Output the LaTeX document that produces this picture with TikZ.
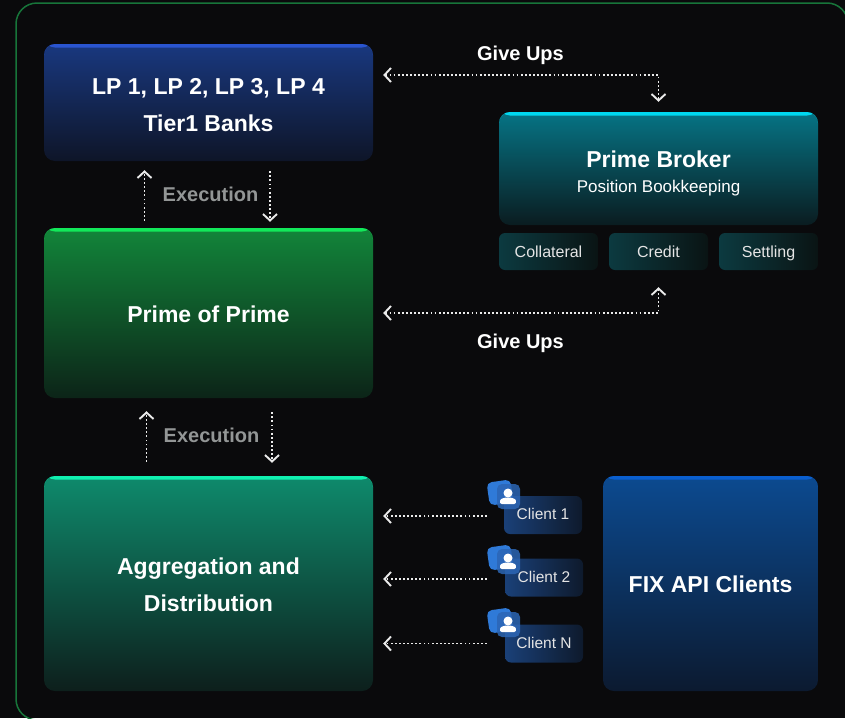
\documentclass[tikz,border=0pt]{standalone}
\usepackage{fontspec}
\setmainfont{Liberation Sans}
\usetikzlibrary{arrows.meta}
\definecolor{bgc}{HTML}{0A0A0C}
\definecolor{framec}{HTML}{17753A}
\definecolor{execc}{HTML}{939696}
\definecolor{lpS}{HTML}{2A55D0}\definecolor{lpA}{HTML}{19387F}\definecolor{lpB}{HTML}{12275F}\definecolor{lpC}{HTML}{0E1528}
\definecolor{ppS}{HTML}{12E85A}\definecolor{ppA}{HTML}{12853A}\definecolor{ppB}{HTML}{0E5A2E}\definecolor{ppC}{HTML}{0C2418}
\definecolor{agS}{HTML}{10F0B0}\definecolor{agA}{HTML}{0E8A6C}\definecolor{agB}{HTML}{0C5A4A}\definecolor{agC}{HTML}{0D1F1C}
\definecolor{pbS}{HTML}{00D8F0}\definecolor{pbA}{HTML}{067485}\definecolor{pbB}{HTML}{07525E}\definecolor{pbC}{HTML}{0A1C20}
\definecolor{fxS}{HTML}{0A5FD0}\definecolor{fxA}{HTML}{0C4A90}\definecolor{fxB}{HTML}{0C3262}\definecolor{fxC}{HTML}{0C1A30}
\definecolor{tagL}{HTML}{0C3A40}\definecolor{tagR}{HTML}{0A1414}
\definecolor{cliL}{HTML}{1A4078}\definecolor{cliR}{HTML}{0E1A2C}
\definecolor{icoA}{HTML}{2F7AD8}\definecolor{icoB}{HTML}{2C66B5}
\newcommand{\lowr}[2]{\raisebox{-#1pt}[\height][\depth]{#2}}
\tikzset{
 card/.style n args={4}{draw=none,rounded corners=11pt,inner sep=0pt,align=center,text=white,
   font=\fontsize{23}{37}\selectfont\bfseries,
   top color=#2,middle color=#3,bottom color=#4,
   path picture={\fill[#1] (path picture bounding box.north west) rectangle ([yshift=-3.5pt]path picture bounding box.north east);}},
 tagbox/.style={rounded corners=6pt,inner sep=0pt,text=white!90!black,font=\fontsize{16}{18}\selectfont,left color=tagL,right color=tagR,minimum width=99pt,minimum height=37pt,text height=14pt,text depth=3pt},
 clientbox/.style={rounded corners=6pt,inner sep=0pt,text=white!90!black,font=\fontsize{15.5}{18}\selectfont,left color=cliL,right color=cliR,minimum width=78pt,minimum height=38pt,text height=12pt,text depth=3pt},
 flow/.style={draw=white!92!black,line width=1.9pt,dash pattern=on 1.8pt off 2.3pt},
 tipend/.style={-{Straight Barb[length=6.5pt,width=14pt,line width=1.9pt]}},
 tipboth/.style={{Straight Barb[length=6.5pt,width=14pt,line width=1.9pt]}-{Straight Barb[length=6.5pt,width=14pt,line width=1.9pt]}},
 lbl/.style={text=white,font=\fontsize{20}{24}\selectfont\bfseries,inner sep=0pt},
 execl/.style={text=execc,font=\fontsize{20}{24}\selectfont\bfseries,inner sep=0pt},
}
\newcommand{\clienticon}[2]{%
 \begin{scope}[shift={(#1,#2)}]
  \fill[icoA,rounded corners=5pt,rotate around={8:(-8,-3)}] (-20,-14) rectangle (4,9);
  \fill[icoB,rounded corners=5pt,opacity=.85] (-11,-11) rectangle (12,14);
  \fill[white] (0,-2) circle (4.5);
  \fill[white,rounded corners=1.5pt] (-7.8,9) -- (-7.8,7) .. controls (-7.8,3.5) and (-3,2.6) .. (0,2.6) .. controls (3,2.6) and (7.8,3.5) .. (7.8,7) -- (7.8,9) -- cycle;
 \end{scope}}
\begin{document}
\begin{tikzpicture}[x=1pt,y=-1pt]
\useasboundingbox (0,0) rectangle (845,718);
\fill[bgc] (0,0) rectangle (845,718);
\draw[framec,line width=1.5pt,rounded corners=21pt] (44,720) -- (16,720) -- (16,3) -- (848,3) -- (848,50);

\node[card={lpS}{lpA}{lpB}{lpC},minimum width=329pt,minimum height=117pt] (lp) at (208.5,102.5) {\lowr{3}{LP 1, LP 2, LP 3, LP 4}\\\lowr{3}{Tier1 Banks}};
\node[card={ppS}{ppA}{ppB}{ppC},minimum width=329pt,minimum height=170pt] (pop) at (208.5,313) {\lowr{1}{Prime of Prime}};
\node[card={agS}{agA}{agB}{agC},minimum width=329pt,minimum height=215pt] (agg) at (208.5,583.5) {\lowr{1}{Aggregation and}\\\lowr{1}{Distribution}};
\node[card={pbS}{pbA}{pbB}{pbC},minimum width=319pt,minimum height=113pt] (pb) at (658.5,168.5) {\lowr{5}{Prime Broker}\\[-11pt]{\fontsize{17}{20}\selectfont\mdseries\lowr{4}{Position Bookkeeping}}};
\node[card={fxS}{fxA}{fxB}{fxC},minimum width=215pt,minimum height=215pt] (fix) at (710.5,583.5) {\lowr{1}{FIX API Clients}};

\node[tagbox] (coll) at (548.5,251.5) {Collateral};
\node[tagbox] (cred) at (658.5,251.5) {Credit};
\node[tagbox] (sett) at (768.5,251.5) {Settling};

\node[clientbox] (c1) at (543,515) {Client 1};
\node[clientbox] (c2) at (544,577.5) {Client 2};
\node[clientbox] (cn) at (544,643.5) {Client N};
\clienticon{508}{495}
\clienticon{508}{560}
\clienticon{508}{623}

\node[lbl] (g1) at (520.5,55.5) {Give Ups};
\node[lbl] (g2) at (520.5,343.5) {Give Ups};
\node[execl] (e1) at (210.5,194) {Execution};
\node[execl] (e2) at (211.5,435) {Execution};

\draw[flow,tipend] ([shift={(-64pt,7pt)}]pop.north) -- ([shift={(-64pt,-9pt)}]lp.south);
\draw[flow,tipend] ([shift={(61.5pt,-10pt)}]lp.south) -- ([shift={(61.5pt,6pt)}]pop.north);
\draw[flow,tipend] ([shift={(-62pt,14pt)}]agg.north) -- ([shift={(-62pt,-13pt)}]pop.south);
\draw[flow,tipend] ([shift={(63.5pt,-14pt)}]pop.south) -- ([shift={(63.5pt,13pt)}]agg.north);

\draw[flow,tipboth] ([shift={(10pt,27.5pt)}]lp.east) -| ([yshift=10pt]pb.north);
\draw[flow,tipboth] ([xshift=10pt]pop.east) -| ([yshift=-17pt]cred.south);

\draw[flow,tipend] ([xshift=-17pt,yshift=-1pt]c1.west) -- ([xshift=10pt,yshift=-1pt]c1.west -| agg.east);
\draw[flow,tipend] ([xshift=-18pt,yshift=-1.5pt]c2.west) -- ([xshift=10pt,yshift=-1.5pt]c2.west -| agg.east);
\draw[flow,tipend] ([xshift=-18pt]cn.west) -- ([xshift=10pt]cn.west -| agg.east);
\end{tikzpicture}
\end{document}
